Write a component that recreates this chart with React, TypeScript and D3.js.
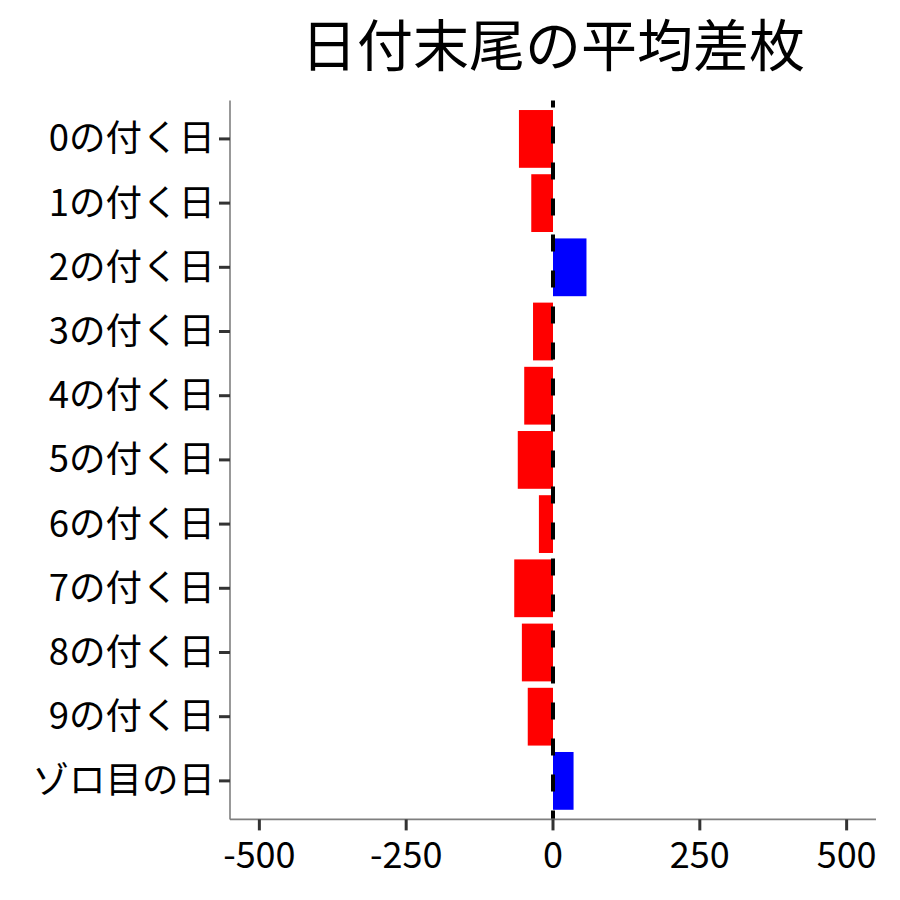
import React, { useRef, useEffect } from "react";
import { select, scaleLinear, scalePoint } from "d3";

// categories, top to bottom
const categories = [
  "0の付く日",
  "1の付く日",
  "2の付く日",
  "3の付く日",
  "4の付く日",
  "5の付く日",
  "6の付く日",
  "7の付く日",
  "8の付く日",
  "9の付く日",
  "ゾロ目の日",
];
// average difference (枚) per category
const avgDiff = [-58, -37, 57, -34, -49, -60, -24, -66, -53, -43, 35];
const xTicks = [-500, -250, 0, 250, 500];
const titleText = "日付末尾の平均差枚";

const FONT = "'Noto Sans CJK JP', 'Noto Sans', sans-serif";

const App: React.FC = () => {
  const ref = useRef<SVGSVGElement>(null);

  useEffect(() => {
    const svg = select(ref.current);
    svg.selectAll("*").remove();

    const panel = { left: 230, right: 876, top: 100.4, bottom: 819.4 };

    const x = scaleLinear().domain([-550, 550]).range([panel.left, panel.right]);
    const y = scalePoint<string>()
      .domain(categories)
      .range([panel.top, panel.bottom])
      .padding(0.6);
    const barH = y.step() * 0.9;

    const data = categories.map((c, i) => ({ cat: c, val: avgDiff[i] }));

    svg
      .append("clipPath")
      .attr("id", "panel-clip")
      .append("rect")
      .attr("x", panel.left)
      .attr("y", panel.top)
      .attr("width", panel.right - panel.left)
      .attr("height", panel.bottom - panel.top);

    // bars
    svg
      .append("g")
      .selectAll("rect")
      .data(data)
      .enter()
      .append("rect")
      .attr("x", (d) => x(Math.min(0, d.val)))
      .attr("y", (d) => (y(d.cat) as number) - barH / 2)
      .attr("width", (d) => Math.abs(x(d.val) - x(0)))
      .attr("height", barH)
      .attr("fill", (d) => (d.val < 0 ? "#FF0000" : "#0000FF"));

    // zero reference line
    svg
      .append("line")
      .attr("x1", x(0))
      .attr("x2", x(0))
      .attr("y1", panel.top - 10)
      .attr("y2", panel.bottom)
      .attr("stroke", "#000")
      .attr("stroke-width", 4)
      .attr("stroke-dasharray", "17 19")
      .attr("clip-path", "url(#panel-clip)");

    // axis lines
    svg
      .append("line")
      .attr("x1", panel.left)
      .attr("x2", panel.left)
      .attr("y1", panel.top)
      .attr("y2", panel.bottom)
      .attr("stroke", "#7f7f7f")
      .attr("stroke-width", 1.6);
    svg
      .append("line")
      .attr("x1", panel.left)
      .attr("x2", panel.right)
      .attr("y1", panel.bottom)
      .attr("y2", panel.bottom)
      .attr("stroke", "#7f7f7f")
      .attr("stroke-width", 1.6);

    // x ticks
    const xt = svg.append("g").selectAll("g").data(xTicks).enter().append("g");
    xt.append("line")
      .attr("x1", (d) => x(d))
      .attr("x2", (d) => x(d))
      .attr("y1", panel.bottom)
      .attr("y2", panel.bottom + 11)
      .attr("stroke", "#333")
      .attr("stroke-width", 3);
    xt.append("text")
      .attr("x", (d) => x(d))
      .attr("y", 868)
      .attr("text-anchor", "middle")
      .attr("font-family", FONT)
      .attr("font-size", 36)
      .attr("fill", "#000")
      .text((d) => String(d));

    // y ticks
    const yt = svg.append("g").selectAll("g").data(categories).enter().append("g");
    yt.append("line")
      .attr("x1", panel.left - 11)
      .attr("x2", panel.left)
      .attr("y1", (d) => y(d) as number)
      .attr("y2", (d) => y(d) as number)
      .attr("stroke", "#333")
      .attr("stroke-width", 3);
    yt.append("text")
      .attr("x", panel.left - 15)
      .attr("y", (d) => (y(d) as number) + 12.5)
      .attr("text-anchor", "end")
      .attr("font-family", FONT)
      .attr("font-size", 36.5)
      .attr("fill", "#000")
      .text((d) => d);

    // title
    svg
      .append("text")
      .attr("x", (panel.left + panel.right) / 2)
      .attr("y", 66)
      .attr("text-anchor", "middle")
      .attr("font-family", FONT)
      .attr("font-size", 56)
      .attr("fill", "#000")
      .text(titleText);
  }, []);

  return (
    <svg
      ref={ref}
      width={900}
      height={900}
      style={{ position: "absolute", left: 0, top: 0, background: "#fff" }}
    />
  );
};

export default App;
